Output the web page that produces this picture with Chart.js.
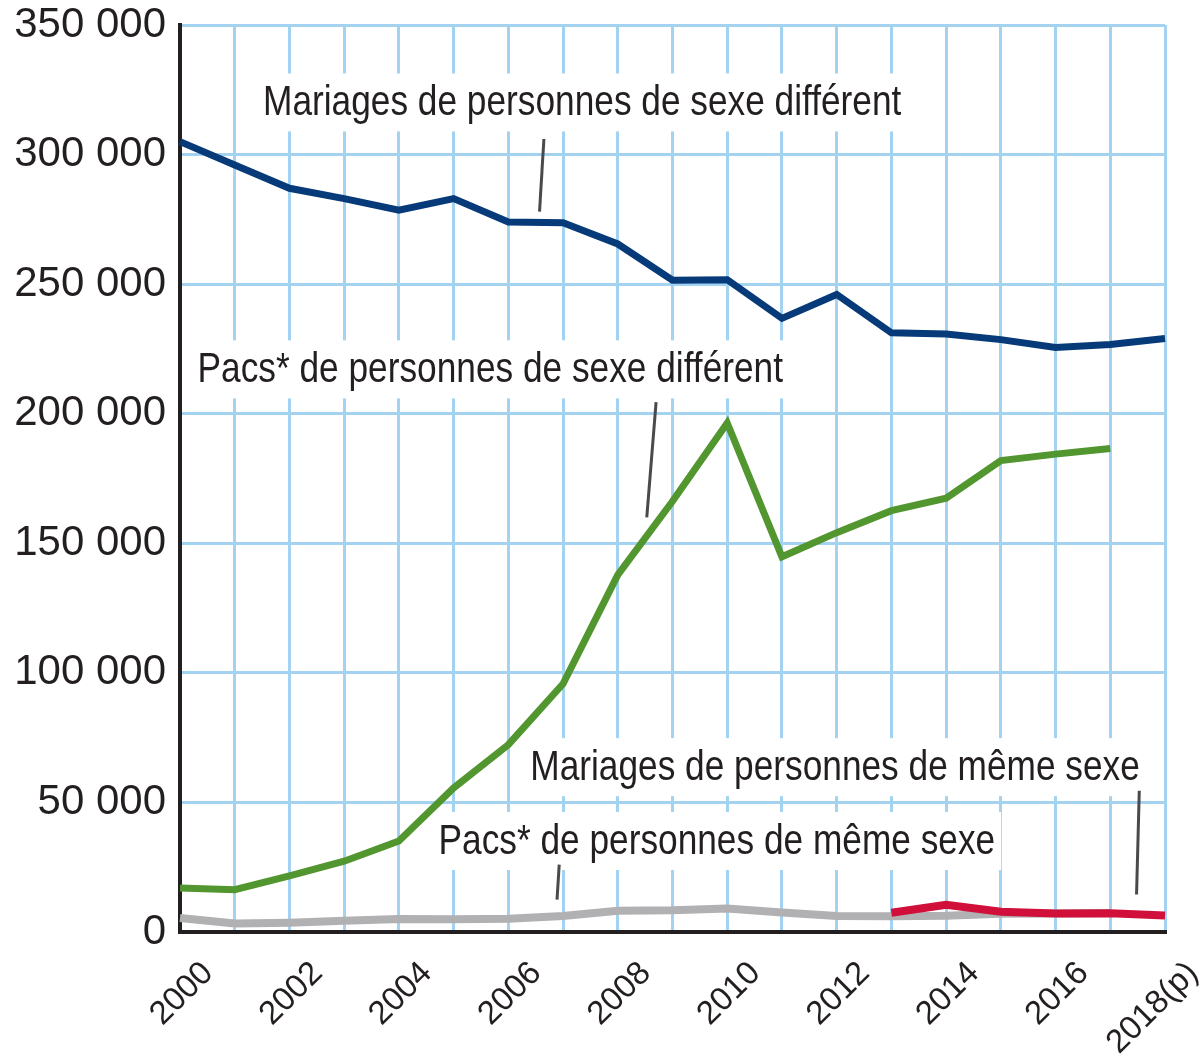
<!DOCTYPE html>
<html lang="fr">
<head>
  <meta charset="UTF-8" />
  <title>Mariages et Pacs</title>
  <script src="https://cdn.jsdelivr.net/npm/chart.js"></script>
<style>
  body { margin: 0; background: #fff; }
  .wrap { width: 1204px; height: 1060px; position: relative; }
</style>
</head>
<body>
  <div class="wrap"><canvas id="chart"></canvas></div>

<script>
  const years = ['2000','2001','2002','2003','2004','2005','2006','2007','2008','2009',
                 '2010','2011','2012','2013','2014','2015','2016','2017','2018'];
  const yearLabels = ['2000','','2002','','2004','','2006','','2008','',
                      '2010','','2012','','2014','','2016','','2018(p)'];

  const mariagesDiff = [305000, 296000, 287000, 283000, 278500, 283000, 274000, 273700, 265500, 251500,
                        251700, 236800, 246000, 231200, 230800, 228600, 225600, 226700, 229000];
  const pacsDiff = [17000, 16300, 21700, 27300, 35100, 55600, 72300, 95800, 137800, 166200,
                    196400, 144800, 154100, 162600, 167400, 181900, 184400, 186600, null];
  const pacsSame = [5400, 3300, 3600, 4300, 5000, 4900, 5100, 6200, 8200, 8400,
                    9100, 7500, 6200, 6100, 6300, 7000, 7100, 7300, null];
  const mariagesSame = [null, null, null, null, null, null, null, null, null, null,
                        null, null, null, 7400, 10500, 7800, 7100, 7200, 6400];

  const yTicks = [0, 50000, 100000, 150000, 200000, 250000, 300000, 350000];

  // labels: centre (year index, value) + leader line (from, to)
  const notes = [
    { text: 'Mariages de personnes de sexe différent', x: 7.35, y: 320500, line: [[6.65, 306000], [6.57, 278000]] },
    { text: 'Pacs* de personnes de sexe différent', x: 5.67, y: 217500, line: [[8.7, 204500], [8.53, 160000]] },
    { text: 'Mariages de personnes de même sexe', x: 11.97, y: 64000, line: [[17.53, 54500], [17.48, 14500]] },
    { text: 'Pacs* de personnes de même sexe', x: 9.81, y: 35500, line: [[6.93, 26000], [6.89, 12500]] }
  ];

  const FONT = "'Liberation Sans', Arial, sans-serif";

  const notesPlugin = {
    id: 'notes',
    beforeDatasetsDraw(chart) {
      const ctx = chart.ctx;
      const xs = chart.scales.x, ys = chart.scales.y;
      ctx.save();
      ctx.font = '43px ' + FONT;
      ctx.textAlign = 'center';
      ctx.textBaseline = 'middle';
      notes.forEach(n => {
        const cx = xs.getPixelForValue(n.x), cy = ys.getPixelForValue(n.y);
        const w = ctx.measureText(n.text).width * 0.82;
        ctx.fillStyle = '#fff';
        ctx.fillRect(cx - w / 2 - 6, cy - 28, w + 12, 58);
        // narrow lettering, as in the source
        ctx.save();
        ctx.translate(cx, cy + 2);
        ctx.scale(0.82, 1);
        ctx.fillStyle = '#231f20';
        ctx.fillText(n.text, 0, 0);
        ctx.restore();
        const [a, b] = n.line;
        ctx.strokeStyle = '#4a4a4a';
        ctx.lineWidth = 3;
        ctx.beginPath();
        ctx.moveTo(xs.getPixelForValue(a[0]), ys.getPixelForValue(a[1]));
        ctx.lineTo(xs.getPixelForValue(b[0]), ys.getPixelForValue(b[1]));
        ctx.stroke();
      });
      ctx.restore();
    }
  };

  new Chart(document.getElementById('chart'), {
    type: 'line',
    data: {
      labels: years,
      datasets: [
        { data: mariagesDiff, borderColor: '#063a78', borderWidth: 7 },
        { data: pacsDiff, borderColor: '#52962f', borderWidth: 7 },
        { data: mariagesSame, borderColor: '#d0103a', borderWidth: 8 },
        { data: pacsSame, borderColor: '#b1b1b3', borderWidth: 8 }
      ]
    },
    options: {
      responsive: true,
      maintainAspectRatio: false,
      animation: false,
      elements: { point: { radius: 0 }, line: { tension: 0 } },
      layout: { padding: { top: 25, right: 39, left: 0, bottom: 0 } },
      plugins: { legend: { display: false }, tooltip: { enabled: false } },
      scales: {
        x: {
          grid: { color: '#a3d3f1', lineWidth: 3, drawTicks: false },
          border: { color: '#231f20', width: 4 },
          ticks: {
            autoSkip: false, maxRotation: 45, minRotation: 45,
            labelOffset: 28, padding: 22,
            color: '#231f20',
            font: { family: FONT, size: 33 },
            callback: (v, i) => yearLabels[i]
          },
          afterFit: s => { s.height = 128; s.paddingLeft = 0; s.paddingRight = 0; }
        },
        y: {
          min: 0, max: 350000,
          afterBuildTicks: s => { s.ticks = yTicks.map(v => ({ value: v })); },
          grid: { color: '#a3d3f1', lineWidth: 3, drawTicks: false },
          border: { color: '#231f20', width: 4 },
          ticks: {
            padding: 14,
            color: '#231f20',
            font: { family: FONT, size: 42 },
            callback: v => v === 0 ? '0' : String(v).replace(/(\d)(?=(\d{3})+$)/g, '$1 ')
          },
          afterFit: s => { s.width = 180; s.paddingTop = 0; s.paddingBottom = 0; }
        }
      }
    },
    plugins: [notesPlugin]
  });
</script>
</body>
</html>
